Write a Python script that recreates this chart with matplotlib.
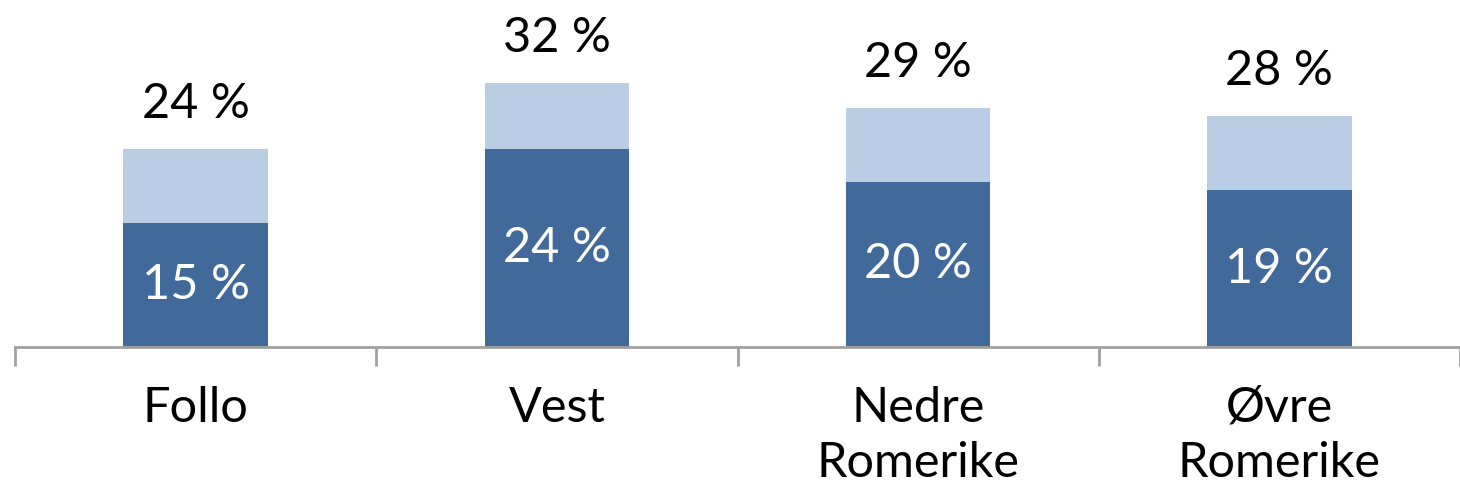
import matplotlib.pyplot as plt
import numpy as np

categories = ['Follo', 'Vest', 'Nedre\nRomerike', 'Øvre\nRomerike']
dark_values = [15, 24, 20, 19]
total_values = [24, 32, 29, 28]

dark_color = '#41699A'
light_color = '#B9CDE5'
axis_color = '#A0A0A0'

plt.rcParams['font.family'] = ['Lato', 'DejaVu Sans']

fig = plt.figure(figsize=(14.6, 4.97), dpi=100)
# axes: left at x=15px, bottom at y=347px (from top), top at figure top
ax = fig.add_axes([15 / 1460, (497 - 347) / 497, 1445 / 1460, 347 / 497])

x = np.arange(len(categories))
light_values = [t - d for t, d in zip(total_values, dark_values)]

ax.bar(x, dark_values, width=0.4, color=dark_color)
ax.bar(x, light_values, width=0.4, bottom=dark_values, color=light_color)

for i in range(len(categories)):
    ax.text(x[i], dark_values[i] / 2, f'{dark_values[i]} %', ha='center', va='center',
            color='white', fontsize=35)
    ax.text(x[i], total_values[i] + 3.7, f'{total_values[i]} %', ha='center', va='baseline',
            color='black', fontsize=35)

ax.set_xlim(-0.5, len(categories) - 0.5)
ax.set_ylim(0, 347 / 8.25)

for s in ['top', 'right', 'left']:
    ax.spines[s].set_visible(False)
ax.spines['bottom'].set_color(axis_color)
ax.spines['bottom'].set_linewidth(2)
ax.set_yticks([])

ax.set_xticks(np.arange(len(categories) + 1) - 0.5, minor=False)
ax.set_xticklabels([])
ax.tick_params(axis='x', which='major', length=14, width=2, color=axis_color)
ax.set_xticks(x, minor=True)
ax.set_xticklabels(categories, minor=True, fontsize=35, linespacing=1.3)
ax.tick_params(axis='x', which='minor', length=0, pad=28)

fig.savefig('out.png', dpi=100)
